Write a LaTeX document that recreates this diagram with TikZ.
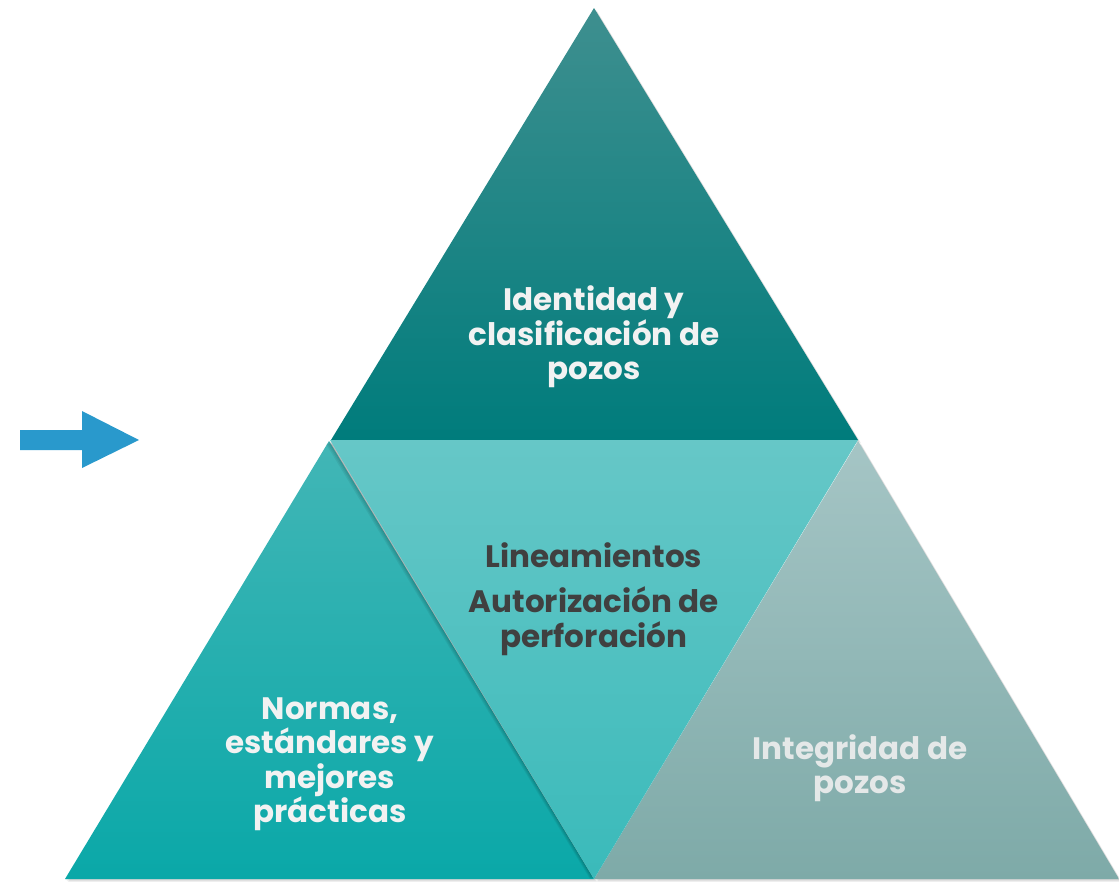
\documentclass[tikz,border=0pt]{standalone}
\usepackage{fontspec}
\setmainfont{Poppins}
\usetikzlibrary{calc}
\definecolor{topA}{RGB}{62,143,143}
\definecolor{topM}{RGB}{0,138,138}
\definecolor{topB}{RGB}{0,124,124}
\definecolor{midA}{RGB}{102,199,199}
\definecolor{midB}{RGB}{58,186,186}
\definecolor{leftA}{RGB}{66,182,182}
\definecolor{leftB}{RGB}{10,168,168}
\definecolor{rightA}{RGB}{165,197,197}
\definecolor{rightB}{RGB}{126,170,168}
\definecolor{arrowblue}{RGB}{41,153,204}
\definecolor{txtlight}{RGB}{242,242,242}
\definecolor{txtright}{RGB}{228,232,232}
\definecolor{txtdark}{RGB}{64,64,64}
\tikzset{
  lbl/.style={font=\bfseries\fontsize{31}{34.5}\selectfont, align=center, inner sep=0pt},
  shadowfill/.style={fill=black, opacity=0.06},
}
\begin{document}
\begin{tikzpicture}[x=1pt,y=-1pt]
\useasboundingbox (0,0) rectangle (1119,881);
% soft shadows of outer triangles
\foreach \d in {1,2,3} {
  \fill[shadowfill] (594+\d,8+\d) -- (858+\d,440+\d) -- (331+\d,440+\d) -- cycle;
  \fill[shadowfill] (329+\d,441+\d) -- (594+\d,879+\d) -- (65+\d,879+\d) -- cycle;
  \fill[shadowfill] (858+\d,441+\d) -- (1119+\d,879+\d) -- (594+\d,879+\d) -- cycle;
}
% top triangle
\shade[top color=topA, middle color=topM, bottom color=topB] (594,8) -- (858,440) -- (331,440) -- cycle;
% left triangle
\shade[top color=leftA, bottom color=leftB] (329,441) -- (594,879) -- (65,879) -- cycle;
% right triangle
\shade[top color=rightA, bottom color=rightB] (858,441) -- (1119,879) -- (594,879) -- cycle;
% middle inverted triangle with soft shadow to the left
\foreach \d in {1,2,3,4} {
  \fill[shadowfill] (330-\d,440+\d) -- (858-\d,440+\d) -- (594-\d,879) -- cycle;
}
\shade[top color=midA, bottom color=midB] (330,440) -- (858,440) -- (594,879) -- cycle;
% arrow
\fill[arrowblue] (20,430) -- (82,430) -- (82,411) -- (139,440) -- (82,468) -- (82,450) -- (20,450) -- cycle;
% labels
\node[lbl, text=txtlight] (top) at (594,337) {Identidad y\\clasificación de\\pozos};
\node[lbl, text=txtdark] (mid1) at (594,555) {Lineamientos};
\node[lbl, text=txtdark] (mid2) at (594,621) {Autorización de\\perforación};
\node[lbl, text=txtlight] (left) at (330,764) {Normas,\\estándares y\\mejores\\prácticas};
\node[lbl, text=txtright] (right) at (860,768) {Integridad de\\pozos};
\end{tikzpicture}
\end{document}
